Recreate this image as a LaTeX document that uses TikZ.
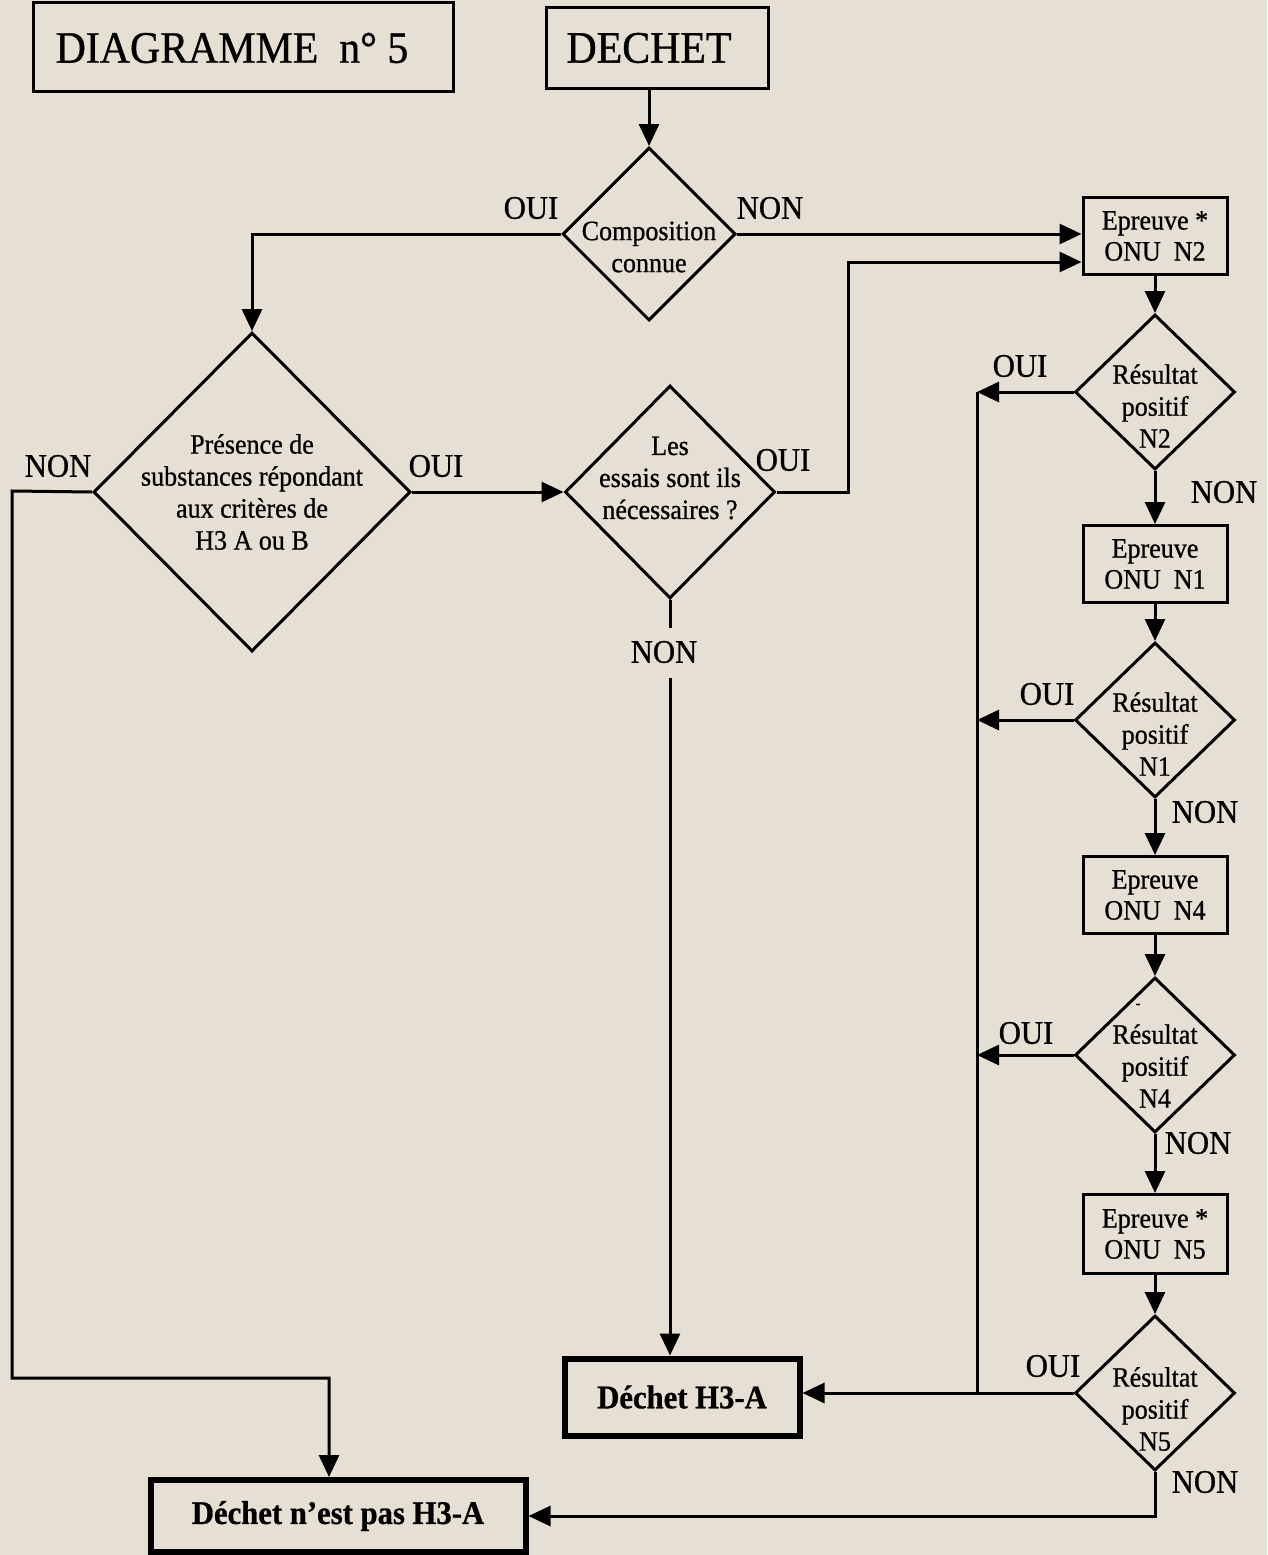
\documentclass[tikz,border=0pt]{standalone}
\usepackage{fontspec}
\setmainfont[FakeStretch=0.93,FakeBold=0.8]{Liberation Serif}
\usetikzlibrary{shapes.geometric,arrows.meta}
\definecolor{paper}{RGB}{229,224,211}
\begin{document}
\begin{tikzpicture}[x=1pt,y=-1pt, line width=3pt, line join=miter,
  arr/.style={-{Triangle[length=22pt,width=20pt]}},
  box/.style={draw, rectangle, inner sep=0pt, align=center, font=\fontsize{28}{31}\selectfont},
  endbox/.style={draw, rectangle, inner sep=0pt, line width=6pt, font=\fontsize{33}{36}\selectfont\bfseries},
  dia/.style={draw, diamond, inner sep=0pt},
  dtext/.style={align=center, inner sep=0pt, font=\fontsize{28}{32}\selectfont},
  lab/.style={inner sep=0pt, font=\fontsize{33}{36}\selectfont},
  big/.style={inner sep=0pt, font=\fontsize{45}{50}\selectfont}]
\fill[paper] (0,0) rectangle (1267,1555);
\useasboundingbox (0,0) rectangle (1267,1555);

% title boxes
\node[draw, rectangle, minimum width=420pt, minimum height=89pt] (titlebox) at (243,47) {};
\node[big] (titletext) at (232,48) {DIAGRAMME\ \ n° 5};
\node[draw, rectangle, minimum width=222pt, minimum height=80pt] (dechetbox) at (657,48) {};
\node[big] (dechettext) at (649,48) {DECHET};

% diamonds left/centre
\node[dia, minimum width=173pt, minimum height=173pt] (d1) at (649,234) {};
\node[dtext] (t1) at (649,247) {Composition\\connue};
\node[dia, minimum width=317pt, minimum height=319pt] (d2) at (252,492) {};
\node[dtext] (t2) at (252,492) {Présence de\\substances répondant\\aux critères de\\H3 A ou B};
\node[dia, minimum width=210pt, minimum height=213pt] (d3) at (670,492) {};
\node[dtext] (t3) at (670,478) {Les\\essais sont ils\\nécessaires ?};

% right column
\node[box, minimum width=144pt, minimum height=77pt] (n2) at (1155,236) {Epreuve *\\ONU\ \ N2};
\node[dia, minimum width=160pt, minimum height=155pt] (r2) at (1155,392) {};
\node[dtext] (tr2) at (1155,406) {Résultat\\positif\\N2};
\node[box, minimum width=144pt, minimum height=77pt] (n1) at (1155,564) {Epreuve\\ONU\ \ N1};
\node[dia, minimum width=160pt, minimum height=155pt] (r1) at (1155,720) {};
\node[dtext] (tr1) at (1155,734) {Résultat\\positif\\N1};
\node[box, minimum width=144pt, minimum height=77pt] (n4) at (1155,895) {Epreuve\\ONU\ \ N4};
\node[dia, minimum width=160pt, minimum height=155pt] (r4) at (1155,1055) {};
\node[dtext] (tr4) at (1155,1066) {Résultat\\positif\\N4};
\node[inner sep=0pt, font=\fontsize{16}{18}\selectfont] (dash) at (1138,1006) {-};
\node[box, minimum width=144pt, minimum height=79pt] (n5) at (1155,1234) {Epreuve *\\ONU\ \ N5};
\node[dia, minimum width=160pt, minimum height=155pt] (r5) at (1155,1393) {};
\node[dtext] (tr5) at (1155,1409) {Résultat\\positif\\N5};

% end boxes
\node[endbox, minimum width=235pt, minimum height=77pt] (h3a) at (682,1397) {Déchet H3-A};
\node[endbox, minimum width=375pt, minimum height=72pt] (npas) at (338,1516) {Déchet n'est pas H3-A};

% labels
\node[lab] (l1o) at (531,208) {OUI};
\node[lab] (l1n) at (770,208) {NON};
\node[lab] (l2n) at (58,466) {NON};
\node[lab] (l2o) at (436,466) {OUI};
\node[lab] (l3o) at (783,460) {OUI};
\node[lab] (l3n) at (664,652) {NON};
\node[lab] (lr2o) at (1020,366) {OUI};
\node[lab] (lr2n) at (1224,492) {NON};
\node[lab] (lr1o) at (1047,694) {OUI};
\node[lab] (lr1n) at (1205,812) {NON};
\node[lab] (lr4o) at (1026,1033) {OUI};
\node[lab] (lr4n) at (1198,1143) {NON};
\node[lab] (lr5o) at (1053,1366) {OUI};
\node[lab] (lr5n) at (1205,1482) {NON};

% coordinates
\coordinate (cj) at (848,262);
\coordinate (gapTop) at (670,628);
\coordinate (gapBot) at (670,678);
\coordinate (cl) at (12,491);
\coordinate (cb) at (12,1378);
\coordinate (cn) at (329,1378);
\coordinate (vt) at (977,392);
\coordinate (vb) at (977,1393);

% connectors
\draw[arr] (dechetbox.south -| d1.north) -- (d1.north);
\draw[arr] (d1.west) -| (d2.north);
\draw[arr] (d1.east) -- (d1.east -| n2.west);
\draw[arr] (d2.east) -- (d3.west);
\draw[arr] (d3.east) -| (cj) -- (cj -| n2.west);
\draw (d3.south) -- (gapTop);
\draw[arr] (gapBot) -- (gapBot |- h3a.north);
\draw[arr] (d2.west) -- (cl) -- (cb) -- (cn) -- (cn |- npas.north);

\draw[arr] (n2.south) -- (r2.north);
\draw[arr] (r2.south) -- (n1.north);
\draw[arr] (n1.south) -- (r1.north);
\draw[arr] (r1.south) -- (n4.north);
\draw[arr] (n4.south) -- (r4.north);
\draw[arr] (r4.south) -- (n5.north);
\draw[arr] (n5.south) -- (r5.north);

\draw (vt) -- (vb);
\draw[arr] (r2.west) -- (vt);
\draw[arr] (r1.west) -- (r1.west -| vt);
\draw[arr] (r4.west) -- (r4.west -| vt);
\draw[arr] (r5.west) -- (r5.west -| h3a.east);
\draw[arr] (r5.south) |- (npas.east);
\end{tikzpicture}
\end{document}
